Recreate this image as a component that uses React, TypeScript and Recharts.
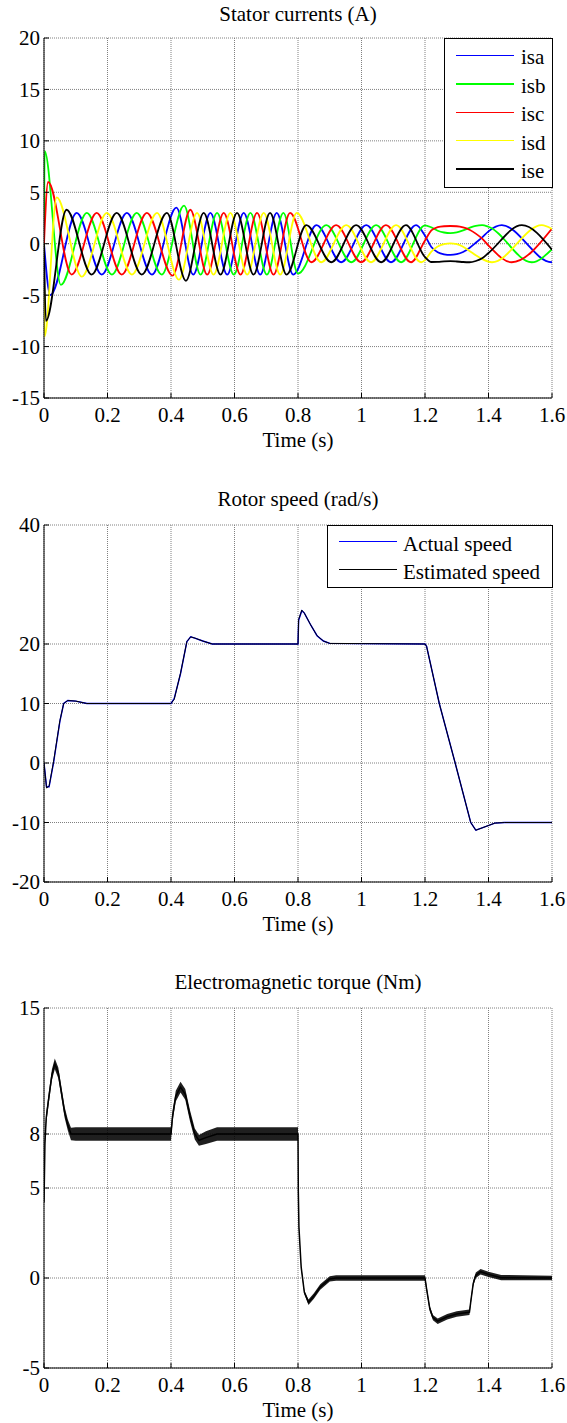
import React from "react";
import { ComposedChart, Line, Area, XAxis, YAxis, CartesianGrid } from "recharts";

const FONT = "'Liberation Serif', 'Times New Roman', serif";

// shared time axis
const timeTicks = [0, 0.2, 0.4, 0.6, 0.8, 1, 1.2, 1.4, 1.6];

// ---- stator currents (A), extrema
const currentTicks = [-15, -10, -5, 0, 5, 10, 15, 20];

const isaTime = [0, 0.02, 0.103, 0.182, 0.261, 0.34, 0.417, 0.47, 0.524, 0.577, 0.629, 0.681, 0.733, 0.785, 0.858, 0.936, 1.015, 1.093, 1.172, 1.2, 1.22, 1.24, 1.26, 1.28, 1.3, 1.32, 1.34, 1.36, 1.38, 1.4, 1.442, 1.599, 1.6];
const isaValue = [0, -5, 3, -3, 3, -3, 3.5, -3, 3, -3, 3, -3, 3, -3, 1.8, -1.8, 1.8, -1.8, 1.8, 0.78, -0.32, -0.83, -1.03, -1.09, -1.02, -0.8, -0.41, 0.09, 0.62, 1.2, 1.8, -1.8, -1.8];

const isbTime = [0, 0.002, 0.053, 0.135, 0.214, 0.292, 0.371, 0.441, 0.493, 0.545, 0.598, 0.65, 0.702, 0.754, 0.8, 0.889, 0.968, 1.046, 1.125, 1.2, 1.22, 1.24, 1.26, 1.28, 1.3, 1.32, 1.34, 1.36, 1.38, 1.4, 1.536, 1.6];
const isbValue = [0, 9, -4, 3, -3, 3, -3, 3.7, -3, 3, -3, 3, -3, 3, -2.9, 1.8, -1.8, 1.8, -1.8, 1.78, 1.59, 1.26, 1.09, 1.03, 1.1, 1.29, 1.54, 1.74, 1.8, 1.65, -1.8, -0.53];

const iscTime = [0, 0.013, 0.087, 0.166, 0.245, 0.324, 0.405, 0.461, 0.514, 0.566, 0.619, 0.671, 0.723, 0.775, 0.842, 0.92, 0.999, 1.077, 1.156, 1.2, 1.22, 1.24, 1.26, 1.28, 1.3, 1.32, 1.34, 1.36, 1.38, 1.4, 1.473, 1.6];
const iscValue = [0, 6, -3, 3, -3, 3, -3.1, 3.3, -3, 3, -3, 3, -3, 3, -1.8, 1.8, -1.8, 1.8, -1.8, 0.32, 1.3, 1.61, 1.7, 1.72, 1.7, 1.59, 1.36, 0.98, 0.49, -0.18, -1.8, 1.47];

const isdTime = [0, 0.002, 0.04, 0.119, 0.198, 0.277, 0.356, 0.425, 0.482, 0.534, 0.587, 0.64, 0.692, 0.744, 0.796, 0.873, 0.952, 1.03, 1.109, 1.188, 1.2, 1.22, 1.24, 1.26, 1.28, 1.3, 1.32, 1.34, 1.36, 1.38, 1.411, 1.568, 1.6];
const isdValue = [0, -9, 4.5, -3.2, 3, -3, 3, -3.5, 3, -3, 3, -3, 3, -3, 3, -1.8, 1.8, -1.8, 1.8, -1.8, -1.59, -0.78, -0.27, -0.03, 0.04, -0.05, -0.3, -0.7, -1.13, -1.49, -1.8, 1.8, 1.44];

const iseTime = [0, 0.006, 0.071, 0.15, 0.229, 0.308, 0.387, 0.447, 0.503, 0.556, 0.608, 0.66, 0.712, 0.764, 0.826, 0.905, 0.983, 1.062, 1.14, 1.2, 1.22, 1.24, 1.26, 1.28, 1.3, 1.32, 1.34, 1.36, 1.38, 1.4, 1.505, 1.6];
const iseValue = [0, -7.5, 3.3, -3, 3, -3, 3, -3.6, 3, -3, 3, -3, 3, -3, 1.8, -1.8, 1.8, -1.8, 1.8, -1.3, -1.78, -1.77, -1.72, -1.7, -1.73, -1.78, -1.8, -1.68, -1.42, -0.9, 1.8, -0.59];

const phaseNames = ["isa", "isb", "isc", "isd", "ise"];
const phaseColors = ["#0000ff", "#00ff00", "#ff0000", "#ffff00", "#000000"];
const phaseTimes = [isaTime, isbTime, iscTime, isdTime, iseTime];
const phaseValues = [isaValue, isbValue, iscValue, isdValue, iseValue];

// ---- rotor speed (rad/s)
const speedTicks = [-20, -10, 0, 10, 20, 40];
const speedTime = [0, 0.008, 0.016, 0.03, 0.05, 0.062, 0.075, 0.1, 0.135, 0.4, 0.41, 0.43, 0.45, 0.462, 0.475, 0.5, 0.53, 0.8, 0.802, 0.812, 0.82, 0.84, 0.86, 0.88, 0.9, 1.2, 1.205, 1.245, 1.295, 1.344, 1.36, 1.38, 1.42, 1.45, 1.6];
const actualSpeed = [0, -4, -4, 0, 7, 10, 10.5, 10.4, 10, 10, 10.8, 15, 20.4, 21.2, 21, 20.5, 20, 20, 24, 25.6, 25.2, 23.2, 21.4, 20.5, 20.1, 20, 19.6, 10, 0, -10, -11.3, -10.9, -10.1, -10, -10];
const estimatedSpeed = [0, -4.2, -3.9, 0.2, 7.1, 10, 10.5, 10.4, 10, 10, 10.7, 15.1, 20.4, 21.2, 21, 20.5, 20, 20, 24.1, 25.7, 25.2, 23.2, 21.4, 20.5, 20.1, 20, 19.6, 10, 0, -10, -11.3, -10.9, -10.1, -10, -10];

// ---- electromagnetic torque (Nm)
const torqueTicks = [-5, 0, 5, 8, 15];
const torqueTime = [0, 0.003, 0.007, 0.015, 0.025, 0.034, 0.045, 0.055, 0.065, 0.075, 0.085, 0.1, 0.4, 0.405, 0.415, 0.43, 0.445, 0.46, 0.475, 0.488, 0.51, 0.545, 0.8, 0.801, 0.803, 0.81, 0.82, 0.833, 0.85, 0.87, 0.9, 0.92, 1.2, 1.205, 1.215, 1.225, 1.24, 1.27, 1.3, 1.34, 1.345, 1.352, 1.36, 1.375, 1.4, 1.44, 1.6];
const torqueValue = [4.2, 7.5, 8.9, 10, 11.3, 11.9, 11.4, 10.3, 9.2, 8.5, 8, 8, 8, 9, 10.1, 10.6, 10.2, 9, 8, 7.65, 7.8, 8, 8, 4.8, 2.8, 0.6, -0.8, -1.35, -1, -0.5, -0.05, 0, 0, -0.6, -1.7, -2.2, -2.4, -2.15, -2, -1.9, -1.2, -0.3, 0.15, 0.35, 0.2, 0.02, 0];
// half width of the switching ripple band
const torqueRipple = [0, 0.2, 0.3, 0.3, 0.3, 0.3, 0.3, 0.3, 0.3, 0.3, 0.35, 0.37, 0.37, 0.3, 0.3, 0.3, 0.3, 0.3, 0.3, 0.3, 0.35, 0.37, 0.37, 0.1, 0.1, 0.1, 0.1, 0.15, 0.15, 0.15, 0.15, 0.15, 0.15, 0.15, 0.15, 0.15, 0.15, 0.15, 0.15, 0.15, 0.15, 0.15, 0.15, 0.15, 0.15, 0.15, 0.12];

const phases = phaseNames.map((name, k) => ({
  name,
  color: phaseColors[k],
  data: phaseTimes[k].map((t, i) => ({ t, v: phaseValues[k][i] })),
}));

const speedRows = speedTime.map((t, i) => ({ t, actual: actualSpeed[i], estimated: estimatedSpeed[i] }));

const torqueRows = torqueTime.map((t, i) => ({
  t,
  v: torqueValue[i],
  band: [torqueValue[i] - torqueRipple[i], torqueValue[i] + torqueRipple[i]],
}));

const CHART_MARGIN = { top: 38, right: 15, bottom: 0, left: 4 };

function frame(domain: [number, number], ticks: number[]) {
  const tickStyle = { fill: "#000", fontSize: 21, fontFamily: FONT };
  const line = { stroke: "#000", strokeWidth: 1 };
  return [
    <CartesianGrid key="grid" stroke="#808080" strokeDasharray="1 1" />,
    <XAxis key="xb" dataKey="t" type="number" domain={[0, 1.6]} ticks={timeTicks} allowDataOverflow interval={0}
      height={42} tickSize={-5} tickMargin={14} tick={tickStyle} axisLine={line} tickLine={line} />,
    <XAxis key="xt" xAxisId="top" orientation="top" dataKey="t" type="number" domain={[0, 1.6]} ticks={timeTicks}
      allowDataOverflow interval={0} height={0} tickSize={-5} tick={false} axisLine={line} tickLine={line} />,
    <YAxis key="yl" type="number" domain={domain} ticks={ticks} allowDataOverflow interval={0} width={40}
      tickSize={-5} tickMargin={9} tick={tickStyle} axisLine={line} tickLine={line} />,
    <YAxis key="yr" yAxisId="right" orientation="right" type="number" domain={domain} ticks={ticks} allowDataOverflow
      interval={0} width={0} tickSize={-5} tick={false} axisLine={line} tickLine={line} />,
  ];
}

function Caption({ text, x, baseline }: { text: string; x: number; baseline: number }) {
  return (
    <div
      style={{
        position: "absolute",
        left: x,
        top: baseline - 17.6,
        transform: "translateX(-50%)",
        whiteSpace: "nowrap",
        fontFamily: FONT,
        fontSize: 21,
        lineHeight: "21px",
        color: "#000",
      }}
    >
      {text}
    </div>
  );
}

interface LegendProps {
  items: { label: string; color: string }[];
  left: number;
  top: number;
  right: number;
  bottom: number;
  firstY: number;
  gap: number;
  lineX0: number;
  lineX1: number;
  textX: number;
}

function BoxLegend({ items, left, top, right, bottom, firstY, gap, lineX0, lineX1, textX }: LegendProps) {
  return (
    <>
      <div
        style={{
          position: "absolute",
          left,
          top,
          width: right - left,
          height: bottom - top,
          boxSizing: "border-box",
          border: "1px solid #000",
          background: "#fff",
        }}
      />
      {items.map((it, i) => {
        const y = firstY + i * gap;
        return (
          <React.Fragment key={it.label}>
            <div style={{ position: "absolute", left: lineX0, top: y - 0.75, width: lineX1 - lineX0, height: 1.5, background: it.color }} />
            <div
              style={{
                position: "absolute",
                left: textX,
                top: y + 9.5 - 17.6,
                whiteSpace: "nowrap",
                fontFamily: FONT,
                fontSize: 21,
                lineHeight: "21px",
                color: "#000",
              }}
            >
              {it.label}
            </div>
          </React.Fragment>
        );
      })}
    </>
  );
}

export default function App() {
  return (
    <div style={{ position: "absolute", left: 0, top: 0, width: 567, height: 1423, background: "#fff", overflow: "hidden" }}>
      {/* Stator currents */}
      <div style={{ position: "absolute", left: 0, top: 0 }}>
        <ComposedChart width={567} height={440} margin={CHART_MARGIN}>
          {frame([-15, 20], currentTicks)}
          {phases.map((p) => (
            <Line key={p.name} data={p.data} dataKey="v" name={p.name} type="monotone" stroke={p.color}
              strokeWidth={1.8} dot={false} activeDot={false} isAnimationActive={false} />
          ))}
        </ComposedChart>
      </div>
      <Caption text="Stator currents (A)" x={298} baseline={22} />
      <Caption text="Time (s)" x={298} baseline={448} />
      <BoxLegend
        items={phases.map((p) => ({ label: p.name, color: p.color }))}
        left={444} top={38} right={553} bottom={188}
        firstY={55.5} gap={28.4} lineX0={456} lineX1={514} textX={521}
      />

      {/* Rotor speed */}
      <div style={{ position: "absolute", left: 0, top: 487 }}>
        <ComposedChart width={567} height={437} margin={CHART_MARGIN} data={speedRows}>
          {frame([-20, 40], speedTicks)}
          <Line dataKey="actual" name="Actual speed" type="linear" stroke="#0000ff" strokeWidth={1.4}
            dot={false} activeDot={false} isAnimationActive={false} />
          <Line dataKey="estimated" name="Estimated speed" type="linear" stroke="#000000" strokeWidth={1}
            dot={false} activeDot={false} isAnimationActive={false} />
        </ComposedChart>
      </div>
      <Caption text="Rotor speed (rad/s)" x={298} baseline={507} />
      <Caption text="Time (s)" x={298} baseline={932} />
      <BoxLegend
        items={[
          { label: "Actual speed", color: "#0000ff" },
          { label: "Estimated speed", color: "#000000" },
        ]}
        left={327} top={525} right={553} bottom={588}
        firstY={541.7} gap={28} lineX0={339} lineX1={397} textX={403}
      />

      {/* Electromagnetic torque */}
      <div style={{ position: "absolute", left: 0, top: 970 }}>
        <ComposedChart width={567} height={440} margin={CHART_MARGIN} data={torqueRows}>
          {frame([-5, 15], torqueTicks)}
          <Area dataKey="band" type="linear" stroke="none" fill="#000" fillOpacity={0.88}
            dot={false} activeDot={false} isAnimationActive={false} />
          <Line dataKey="v" type="linear" stroke="#000" strokeWidth={1.5}
            dot={false} activeDot={false} isAnimationActive={false} />
        </ComposedChart>
      </div>
      <Caption text="Electromagnetic torque (Nm)" x={298} baseline={990} />
      <Caption text="Time (s)" x={298} baseline={1418} />
    </div>
  );
}
